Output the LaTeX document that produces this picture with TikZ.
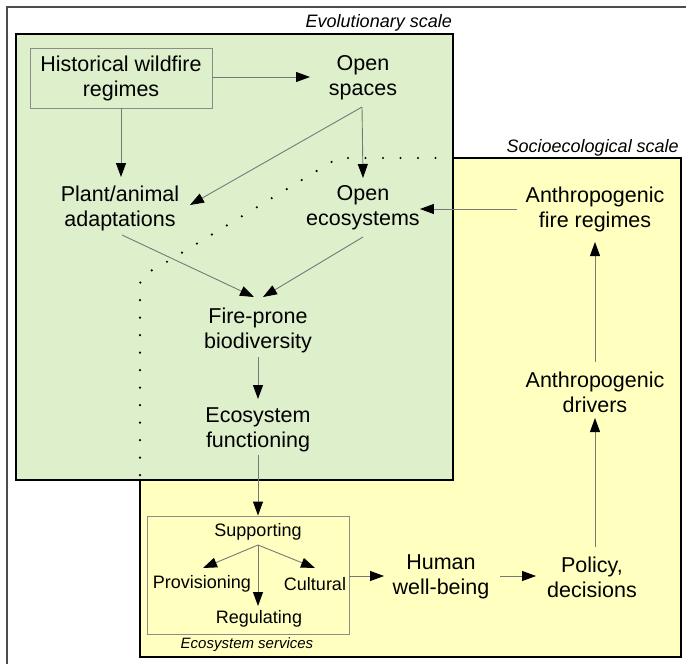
\documentclass[tikz,border=0pt]{standalone}
\usepackage{fontspec}
\setmainfont{Liberation Sans}
\usetikzlibrary{arrows.meta}
\definecolor{greenfill}{RGB}{221,239,203}
\definecolor{yellowfill}{RGB}{255,255,192}
\definecolor{linegray}{RGB}{120,120,120}
\definecolor{boxgray}{RGB}{140,140,140}
\tikzset{
  txt/.style={align=center, inner sep=0pt, font=\fontsize{21.5}{25}\selectfont},
  small/.style={align=center, inner sep=0pt, font=\fontsize{18}{21}\selectfont},
  scalelabel/.style={inner sep=0pt, font=\fontsize{18}{21}\selectfont\itshape},
  servlabel/.style={inner sep=0pt, font=\fontsize{15}{18}\selectfont\itshape},
  arr/.style={draw=linegray, line width=0.9pt, -{Triangle[length=14pt,width=10pt,fill=black,color=black]}},
  scalebox/.style={draw=black, line width=2pt},
  dots/.style={draw=black, line width=2.4pt, line cap=round, dash pattern=on 0pt off 17.5pt}
}
\begin{document}
\begin{tikzpicture}[x=1pt,y=-1pt]
\useasboundingbox (0,0) rectangle (686,664);
\fill[white] (0,0) rectangle (686,664);
% outer frame
\draw[line width=1.5pt, draw=black!70] (7,664) -- (7,7) -- (686,7);
% scale boxes
\filldraw[scalebox, fill=yellowfill] (140,158) rectangle (681,657);
\filldraw[scalebox, fill=greenfill] (16,34) rectangle (453,480);
\node[scalelabel, anchor=base east] (evo) at (452,27) {Evolutionary scale};
\node[scalelabel, anchor=base east] (soc) at (679,152) {Socioecological scale};
% dotted continuation of socioecological boundary
\draw[dots] (453,158) -- (338,158) -- (160,266) to[out=-150,in=90] (140,285) -- (140,480);
% nodes
\node[draw=boxgray, line width=0.9pt, minimum width=182pt, minimum height=60pt, inner sep=0pt] (histbox) at (121,78) {};
\node[txt] (hist) at (121,78) {Historical wildfire\\regimes};
\node[txt] (ospaces) at (363,78) {Open\\spaces};
\node[txt] (plant) at (120,208) {Plant/animal\\adaptations};
\node[txt] (oeco) at (363,208) {Open\\ecosystems};
\node[txt] (afire) at (595,209) {Anthropogenic\\fire regimes};
\node[txt] (fire) at (258,330) {Fire-prone\\biodiversity};
\node[txt] (efunc) at (258,430) {Ecosystem\\functioning};
\node[txt] (adrv) at (595,392) {Anthropogenic\\drivers};
\node[txt] (human) at (441,577) {Human\\well-being};
\node[txt] (policy) at (592,577) {Policy,\\decisions};
% ecosystem services
\node[draw=boxgray, line width=0.9pt, minimum width=202pt, minimum height=118pt, inner sep=0pt] (services) at (248,575) {};
\node[servlabel, anchor=base] (servlab) at (247,648) {Ecosystem services};
\node[small] (supp) at (258,532) {Supporting};
\node[small] (prov) at (202,584) {Provisioning};
\node[small] (cult) at (315,584) {Cultural};
\node[small] (reg) at (259,619) {Regulating};
% coordinates
\coordinate (hb) at (121,108);
\coordinate (hr) at (212,77);
\coordinate (osb) at (362,107);
\coordinate (sfork) at (258,545);
% arrows
\draw[arr] (hr) -- (310,77);
\draw[arr] (hb) -- (121,177);
\draw[arr] (osb) -- (363,178);
\draw[arr] (osb) -- (190,205);
\draw[arr] (517,209) -- (oeco.east |- 0,209);
\draw[arr] (122,235) -- (254,297);
\draw[arr] (363,237) -- (263,297);
\draw[arr] (258,357) -- (258,399);
\draw[arr] (258,455) -- (services.north -| 258,0);
\draw[arr] (sfork) -- (203,568);
\draw[arr] (sfork) -- (315,568);
\draw[arr] (sfork) -- (258,606);
\draw[arr] (services.east |- 0,576) -- (384,576);
\draw[arr] (500,576) -- (536,576);
\draw[arr] (595,547) -- (595,418);
\draw[arr] (595,362) -- (595,242);
\end{tikzpicture}
\end{document}
